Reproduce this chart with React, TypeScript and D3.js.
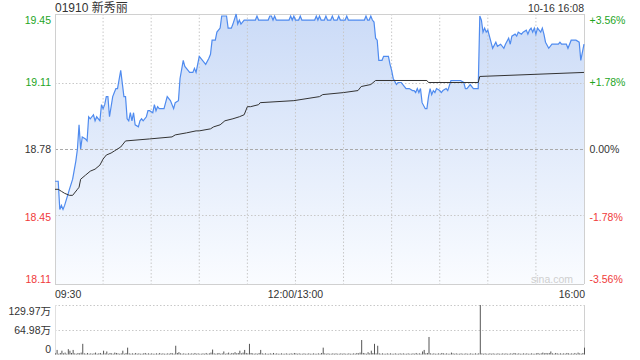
import React from "react";
import * as d3 from "d3";

const title = "01910 新秀丽";
const stamp = "10-16 16:08";
const priceTicks = [19.45, 19.11, 18.78, 18.45, 18.11];
const pctTicks = ["+3.56%", "+1.78%", "0.00%", "-1.78%", "-3.56%"];
const timeTickMinutes = [0, 150, 330];
const timeTickLabels = ["09:30", "12:00/13:00", "16:00"];
const volTickValues = [129.97, 64.98, 0];
const volTickLabels = ["129.97万", "64.98万", "0"];

const priceMinutes = [
  0, 2, 3, 4, 5, 6, 9, 11, 13, 14, 15, 16, 17, 19, 20, 21, 22, 24, 25, 26, 28, 29, 30, 31, 32, 33, 34, 36, 37, 38, 39, 41, 43, 44,
  45, 46, 47, 48, 49, 50, 52, 53, 54, 55, 57, 58, 59, 61, 62, 63, 64, 65, 68, 70, 72, 74, 75, 77, 78, 80, 81, 83, 84, 86, 87, 88,
  90, 91, 93, 94, 96, 97, 98, 100, 101, 103, 104, 107, 108, 110, 111, 113, 114, 115, 116, 118, 120, 125, 126, 127, 133, 134, 135,
  136, 137, 138, 146, 147, 148, 149, 150, 152, 153, 154, 162, 163, 164, 165, 166, 168, 169, 170, 172, 173, 174, 176, 177, 178, 181,
  182, 183, 193, 194, 195, 196, 197, 198, 199, 200, 201, 202, 204, 205, 208, 209, 210, 211, 213, 214, 216, 217, 219, 221, 223, 224,
  225, 226, 227, 228, 229, 231, 232, 233, 234, 235, 236, 237, 238, 240, 241, 242, 244, 245, 247, 253, 255, 256, 257, 258, 259, 261,
  262, 264, 265, 266, 267, 268, 269, 270, 272, 273, 275, 276, 278, 280, 281, 283, 284, 285, 287, 288, 289, 291, 292, 294, 295, 296,
  297, 298, 299, 300, 301, 303, 304, 305, 306, 308, 310, 314, 315, 316, 319, 320, 322, 323, 325, 327, 328, 330,
];
const prices = [
  18.62, 18.62, 18.48, 18.5, 18.48, 18.5, 18.58, 18.63, 18.72, 18.78, 18.9, 18.78, 18.84, 18.83, 18.82, 18.94, 18.93, 18.95, 18.92,
  18.94, 18.92, 19.0, 18.98, 19.0, 19.04, 19.04, 18.94, 19.04, 19.06, 19.08, 19.08, 19.17, 19.04, 19.04,
  18.93, 18.92, 18.96, 18.92, 18.96, 18.9, 18.89, 18.92, 18.93, 18.92, 18.94, 18.97, 18.97, 18.96, 19.0, 18.97, 18.99, 18.98, 18.98,
  19.04, 19.02, 18.98, 19.01, 19.02, 19.13, 19.22, 19.19, 19.17, 19.16, 19.16, 19.18, 19.16,
  19.24, 19.23, 19.21, 19.2, 19.23, 19.25, 19.32, 19.32, 19.36, 19.38, 19.44, 19.44, 19.38, 19.38, 19.4, 19.45, 19.4, 19.42, 19.4,
  19.42, 19.42, 19.42, 19.44, 19.42, 19.42, 19.44, 19.44,
  19.42, 19.44, 19.42, 19.42, 19.44, 19.42, 19.44, 19.42, 19.42, 19.44, 19.42, 19.42, 19.44, 19.42, 19.44, 19.42, 19.42, 19.44,
  19.42, 19.42, 19.44, 19.42, 19.42, 19.44, 19.42, 19.42,
  19.44, 19.42, 19.42, 19.44, 19.42, 19.42, 19.44, 19.42, 19.41, 19.33, 19.32, 19.22, 19.22, 19.24, 19.24, 19.2, 19.17, 19.13,
  19.1, 19.11, 19.11, 19.1, 19.08, 19.08, 19.07, 19.07,
  19.06, 19.08, 19.06, 19.08, 19.01, 18.98, 18.98, 19.04, 19.08, 19.05, 19.07, 19.06, 19.08, 19.07, 19.06, 19.07, 19.08, 19.07,
  19.12, 19.12, 19.11, 19.08, 19.08, 19.09, 19.1, 19.08,
  19.08, 19.08, 19.44, 19.42, 19.36, 19.38, 19.36, 19.37, 19.31, 19.28, 19.31, 19.29, 19.3, 19.28, 19.3, 19.33, 19.3, 19.34, 19.35,
  19.34, 19.36, 19.35, 19.36, 19.37, 19.35, 19.37,
  19.38, 19.36, 19.38, 19.35, 19.38, 19.36, 19.38, 19.35, 19.31, 19.28, 19.3, 19.3, 19.31, 19.3, 19.3, 19.28, 19.32, 19.32, 19.32,
  19.31, 19.22, 19.3,
];

const avgMinutes = [
  0, 2, 4, 6, 9, 11, 14, 15, 16, 19, 22, 25, 28, 30, 32, 35, 37, 41, 42, 44, 59, 73, 75, 82, 88, 90, 97, 99, 103, 106, 111, 115,
  118, 120, 122, 127, 128, 149, 165, 167, 180, 189, 191, 197, 200, 232, 233, 264, 265, 330,
];
const avgPrices = [
  18.58, 18.58, 18.57, 18.56, 18.55, 18.55, 18.58, 18.59, 18.63, 18.65, 18.67, 18.68, 18.7, 18.73, 18.75, 18.76, 18.77, 18.79,
  18.8, 18.82, 18.83, 18.84, 18.85, 18.86, 18.87, 18.87, 18.88, 18.89, 18.9, 18.92, 18.93, 18.94, 18.95, 18.99, 18.99, 19.0,
  19.01, 19.02, 19.04, 19.05, 19.06, 19.07, 19.09, 19.1, 19.12, 19.12, 19.11, 19.11, 19.14, 19.16,
];

// per-minute volume, in 万
const volumes = [
  3, 12, 2, 4, 10, 3, 5, 2, 14, 10, 4, 12, 3, 2, 4, 3, 5, 28, 3, 2,
  4, 2, 3, 2, 3, 5, 2, 3, 4, 2, 10, 3, 8, 2, 4, 3, 2, 5, 4, 3,
  2, 3, 10, 2, 4, 18, 3, 2, 3, 2, 4, 2, 3, 2, 2, 3, 4, 2, 3, 2,
  3, 2, 2, 3, 2, 4, 2, 3, 2, 2, 3, 2, 4, 3, 2, 23, 4, 6, 3, 2,
  3, 2, 2, 3, 2, 3, 2, 4, 2, 3, 2, 2, 3, 2, 4, 2, 3, 5, 13, 3,
  2, 3, 4, 2, 3, 8, 2, 3, 5, 2, 4, 3, 6, 3, 4, 10, 3, 5, 12, 4,
  3, 28, 4, 3, 2, 3, 2, 4, 12, 3, 2, 3, 2, 2, 3, 2, 4, 2, 3, 2,
  2, 3, 2, 2, 3, 2, 2, 3, 2, 4, 3, 2, 3, 2, 2, 3, 2, 2, 3, 2,
  2, 3, 2, 2, 3, 2, 4, 18, 3, 2, 3, 2, 2, 3, 2, 3, 2, 2, 3, 2,
  3, 2, 2, 3, 2, 2, 3, 2, 4, 3, 5, 38, 4, 3, 2, 6, 3, 10, 4, 28,
  3, 23, 3, 2, 3, 2, 2, 3, 2, 3, 2, 2, 3, 2, 2, 3, 2, 3, 2, 2,
  3, 2, 2, 3, 2, 4, 2, 3, 2, 8, 12, 3, 4, 46, 3, 2, 3, 2, 2, 3,
  2, 4, 3, 2, 3, 2, 2, 5, 3, 2, 3, 2, 2, 3, 2, 2, 3, 2, 2, 3,
  2, 2, 3, 2, 3, 130, 3, 2, 3, 2, 2, 3, 2, 3, 2, 2, 3, 2, 2, 3,
  2, 3, 2, 2, 3, 2, 4, 3, 2, 3, 2, 2, 3, 2, 3, 2, 2, 3, 2, 2,
  3, 4, 2, 3, 5, 3, 4, 3, 4, 8, 3, 2, 4, 3, 2, 3, 2, 3, 2, 4,
  3, 2, 3, 2, 4, 2, 5, 3, 2, 4, 18,
];

const GREEN = "#1ea51e";
const RED = "#f03a3a";
const TXT = "#333";
const FONT = "Arial, 'Liberation Sans', 'Noto Sans CJK SC', sans-serif";

export default function App() {
  const L = 55, R = 584, T = 14, B = 284;
  const VT = 305, VB = 354.5;
  const x = d3.scaleLinear().domain([0, 330]).range([L, R]);
  const y = d3.scaleLinear().domain([18.11, 19.45]).range([B, T]);
  const vy = d3.scaleLinear().domain([0, 129.97]).range([VB, VT]);

  const pricePts: [number, number][] = priceMinutes.map((m, i) => [m, prices[i]]);
  const avgPts: [number, number][] = avgMinutes.map((m, i) => [m, avgPrices[i]]);
  const line = d3.line<[number, number]>().x((d) => x(d[0])).y((d) => y(d[1]));
  const area = d3
    .area<[number, number]>()
    .x((d) => x(d[0]))
    .y0(B)
    .y1((d) => y(d[1]));

  const vGrid = d3.range(30, 330, 30);
  const labelY = [20, 82, 149, 217, 278.5];
  const leftColors = [GREEN, GREEN, TXT, RED, RED];
  const timeAnchors = ["start", "middle", "end"] as const;
  const volLabelY = [310.5, 330, 348.5];

  return (
    <svg width={640} height={360} style={{ position: "absolute", left: 0, top: 0, background: "#fff" }} fontFamily={FONT}>
      <defs>
        <linearGradient id="fillGrad" gradientUnits="userSpaceOnUse" x1={0} y1={T} x2={0} y2={B}>
          <stop offset="0%" stopColor="#cbdbf7" />
          <stop offset="100%" stopColor="#fafcff" />
        </linearGradient>
      </defs>
      <rect x={0} y={0} width={640} height={360} fill="#fff" />
      <path d={area(pricePts) || ""} fill="url(#fillGrad)" />

      {/* grid */}
      {vGrid.map((m) => (
        <line key={"vg" + m} x1={x(m)} x2={x(m)} y1={T} y2={B} stroke="#c8c8c8" strokeDasharray="1.5,2" strokeWidth={1} />
      ))}
      {priceTicks.slice(1, 4).map((p, i) => (
        <line
          key={"hg" + p}
          x1={L}
          x2={R}
          y1={Math.round(y(p)) + 0.5}
          y2={Math.round(y(p)) + 0.5}
          stroke={i === 1 ? "#aaa" : "#c8c8c8"}
          strokeDasharray={i === 1 ? "3,2" : "1.5,2"}
          strokeWidth={1}
        />
      ))}
      {/* border */}
      <line x1={L} x2={R} y1={T + 0.5} y2={T + 0.5} stroke="#d0d0d0" />
      <line x1={L} x2={R} y1={B + 0.5} y2={B + 0.5} stroke="#d0d0d0" />
      <line x1={L + 0.5} x2={L + 0.5} y1={T} y2={B} stroke="#d0d0d0" />
      <line x1={R + 0.5} x2={R + 0.5} y1={T} y2={B} stroke="#d0d0d0" />

      <path d={line(pricePts) || ""} fill="none" stroke="#4f8bef" strokeWidth={1.2} />
      <path d={line(avgPts) || ""} fill="none" stroke="#333" strokeWidth={1} />

      {/* texts */}
      <text x={L} y={8} fontSize={12} fill={TXT} dominantBaseline="central">{title}</text>
      <text x={R} y={7.5} fontSize={10.5} fill={TXT} textAnchor="end" dominantBaseline="central">{stamp}</text>
      {priceTicks.map((p, i) => (
        <text key={"lt" + p} x={51} y={labelY[i]} fontSize={10.5} fill={leftColors[i]} textAnchor="end" dominantBaseline="central">
          {p.toFixed(2)}
        </text>
      ))}
      {pctTicks.map((s, i) => (
        <text key={"rt" + s} x={589.5} y={labelY[i]} fontSize={10.5} fill={leftColors[i]} dominantBaseline="central">
          {s}
        </text>
      ))}
      {timeTickMinutes.map((m, i) => (
        <text key={"tt" + m} x={x(m) + (i === 2 ? 1 : 0)} y={293.5} fontSize={10.5} fill={TXT} textAnchor={timeAnchors[i]} dominantBaseline="central">
          {timeTickLabels[i]}
        </text>
      ))}
      <text x={573} y={279} fontSize={10.5} fill="#cfcfcf" textAnchor="end" dominantBaseline="central">sina.com</text>

      {/* volume panel */}
      <line x1={L} x2={R} y1={VT + 0.5} y2={VT + 0.5} stroke="#c8c8c8" strokeDasharray="1.5,2" />
      <line x1={L} x2={R} y1={Math.round(vy(64.98)) + 0.5} y2={Math.round(vy(64.98)) + 0.5} stroke="#c8c8c8" strokeDasharray="1.5,2" />
      <line x1={L + 0.5} x2={L + 0.5} y1={VT} y2={VB} stroke="#e0e0e0" />
      <line x1={R + 0.5} x2={R + 0.5} y1={VT} y2={VB} stroke="#d0d0d0" />
      {volumes.map((v, i) => (
        <line key={"v" + i} x1={x(i) + 0.5} x2={x(i) + 0.5} y1={VB} y2={vy(v)} stroke="#555" strokeWidth={1} />
      ))}
      {volTickValues.map((v, i) => (
        <text key={"vl" + v} x={51} y={volLabelY[i]} fontSize={10.5} fill={TXT} textAnchor="end" dominantBaseline="central">
          {volTickLabels[i]}
        </text>
      ))}
    </svg>
  );
}
